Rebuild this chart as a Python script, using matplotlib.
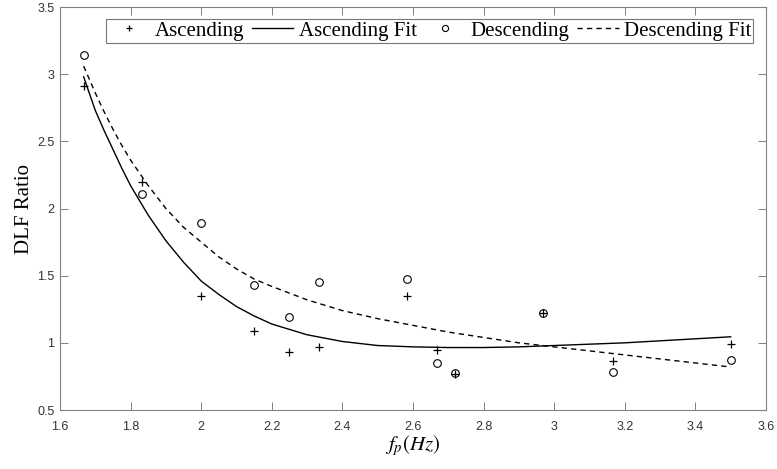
import matplotlib
matplotlib.use("Agg")
import matplotlib.pyplot as plt

# measured points
asc_x = [1.667, 1.833, 2.0, 2.15, 2.25, 2.333, 2.583, 2.667, 2.718, 2.968, 3.167, 3.5]
asc_y = [2.91, 2.20, 1.35, 1.09, 0.93, 0.97, 1.345, 0.945, 0.77, 1.22, 0.865, 0.995]
desc_x = [1.667, 1.833, 2.0, 2.15, 2.25, 2.333, 2.583, 2.667, 2.718, 2.968, 3.167, 3.5]
desc_y = [3.14, 2.11, 1.89, 1.43, 1.195, 1.455, 1.475, 0.85, 0.775, 1.22, 0.785, 0.87]

# fitted curves
asc_fit_x = [1.667, 1.70, 1.725, 1.75, 1.775, 1.80, 1.85, 1.90, 1.95, 2.00, 2.05, 2.10,
             2.15, 2.20, 2.30, 2.40, 2.50, 2.60, 2.70, 2.80, 2.90, 3.00, 3.10, 3.20,
             3.30, 3.40, 3.50]
asc_fit_y = [2.98, 2.73, 2.58, 2.44, 2.30, 2.17, 1.95, 1.76, 1.60, 1.46, 1.36, 1.27,
             1.20, 1.14, 1.06, 1.01, 0.98, 0.97, 0.965, 0.965, 0.97, 0.98, 0.99, 1.00,
             1.015, 1.03, 1.045]
desc_fit_x = [1.667, 1.70, 1.725, 1.75, 1.775, 1.80, 1.85, 1.90, 1.95, 2.00, 2.05, 2.10,
              2.15, 2.20, 2.25, 2.30, 2.40, 2.50, 2.60, 2.70, 2.80, 2.90, 3.00, 3.10,
              3.20, 3.30, 3.40, 3.50]
desc_fit_y = [3.06, 2.86, 2.72, 2.59, 2.47, 2.36, 2.17, 2.00, 1.86, 1.75, 1.64, 1.55,
              1.475, 1.42, 1.37, 1.32, 1.24, 1.18, 1.13, 1.08, 1.04, 1.00, 0.97, 0.94,
              0.91, 0.88, 0.85, 0.82]

xticks = [1.6, 1.8, 2.0, 2.2, 2.4, 2.6, 2.8, 3.0, 3.2, 3.4, 3.6]
xticklabels = ["1.6", "1.8", "2", "2.2", "2.4", "2.6", "2.8", "3", "3.2", "3.4", "3.6"]
yticks = [0.5, 1.0, 1.5, 2.0, 2.5, 3.0, 3.5]
yticklabels = ["0.5", "1", "1.5", "2", "2.5", "3", "3.5"]

plt.rcParams["mathtext.fontset"] = "stix"
serif = "Liberation Serif"
sans = "Liberation Sans"

fig = plt.figure(figsize=(7.77, 4.69), dpi=100)
ax = fig.add_axes([60 / 777, 1 - 410 / 469, 706 / 777, 403 / 469])

ax.plot(asc_x, asc_y, "+", color="k", ms=6, mew=0.9, label="Ascending")
ax.plot(asc_fit_x, asc_fit_y, "-", color="k", lw=1.0, label="Ascending Fit")
ax.plot(desc_x, desc_y, "o", mfc="none", mec="k", ms=5.5, mew=0.8, label="Descending")
ax.plot(desc_fit_x, desc_fit_y, "--", color="k", lw=1.0, dashes=(3.8, 3),
        label="Descending Fit")

ax.set_xlim(1.6, 3.6)
ax.set_ylim(0.5, 3.5)
ax.set_xticks(xticks)
ax.set_xticklabels(xticklabels, fontfamily=sans, fontsize=9, color="#333333")
ax.set_yticks(yticks)
ax.set_yticklabels(yticklabels, fontfamily=sans, fontsize=9, color="#333333")
ax.tick_params(direction="in", top=True, right=True, length=5.5, width=0.7,
               color="#808080")
ax.tick_params(axis="x", pad=8)
ax.tick_params(axis="y", pad=4)
for s in ax.spines.values():
    s.set_color("#808080")
    s.set_linewidth(0.8)

ax.set_xlabel(r"$f_p(Hz)$", fontsize=15, labelpad=0)
ax.set_ylabel("DLF Ratio", fontfamily=serif, fontsize=15, labelpad=2)

leg = fig.legend(loc="upper left", bbox_to_anchor=(106 / 777, 1 - 19 / 469), ncol=4,
                 prop={"family": serif, "size": 15}, frameon=True, fancybox=False,
                 handlelength=2.0, handletextpad=0.25, columnspacing=0.35,
                 borderpad=0.1, borderaxespad=0, markerscale=0.8)
leg.get_frame().set_edgecolor("#555555")
leg.get_frame().set_linewidth(0.8)

fig.savefig("out.png", dpi=100)
